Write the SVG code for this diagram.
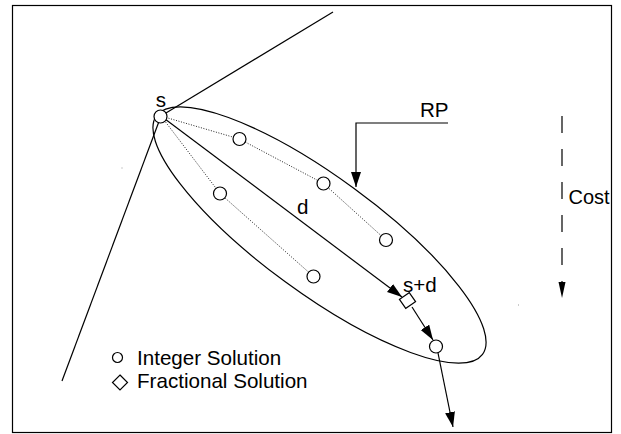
<svg xmlns="http://www.w3.org/2000/svg" width="621" height="434" viewBox="0 0 621 434">
<style>
.ln{stroke:#000;stroke-width:1.2;fill:none}
.dot{stroke:#222;stroke-width:1;stroke-dasharray:1 1.6;fill:none}
.pt{stroke:#000;stroke-width:1.2;fill:#fff}
.t{font-family:"Liberation Sans",Arial,sans-serif;font-size:20.6px;fill:#000}
</style>
<defs>
<marker id="ah" markerUnits="userSpaceOnUse" markerWidth="16" markerHeight="11" refX="15" refY="5" orient="auto">
<path d="M0,0 L15,5 L0,10 z" fill="#000"/>
</marker>
</defs>
<rect x="12.5" y="5.5" width="599" height="427" fill="#fff" stroke="#000" stroke-width="1.2"/>
<g id="connectors">
<line class="ln" x1="161" y1="116" x2="333" y2="12"/>
<line class="ln" x1="161" y1="116" x2="62" y2="381"/>
<ellipse class="ln" cx="319.5" cy="235" rx="202" ry="58" transform="rotate(36.2 319.5 235)"/>
<polyline class="dot" points="161,116 239.5,139 323.5,183.5 386,240"/>
<polyline class="dot" points="161,116 220,193.5 313.5,276.5"/>
<line class="ln" x1="161" y1="116" x2="402" y2="297" marker-end="url(#ah)"/>
<line class="ln" x1="412" y1="307" x2="433" y2="340" marker-end="url(#ah)"/>
<line class="ln" x1="438" y1="353" x2="453" y2="427" marker-end="url(#ah)"/>
<polyline class="ln" points="448,123 356,123 356,187" marker-end="url(#ah)"/>
<line class="ln" x1="562" y1="116" x2="562" y2="282" stroke-dasharray="17 16"/>
<polygon points="558.5,282 565.5,282 562,298" fill="#000"/>
</g>
<g id="node-s"><circle class="pt" cx="160.5" cy="116.5" r="6.5"/><text class="t" x="161" y="107" text-anchor="middle">s</text></g>
<g id="node-i1"><circle class="pt" cx="239.5" cy="139" r="6.5"/></g>
<g id="node-i2"><circle class="pt" cx="323.5" cy="183.5" r="6.5"/></g>
<g id="node-i3"><circle class="pt" cx="386" cy="240" r="6.5"/></g>
<g id="node-i4"><circle class="pt" cx="220" cy="193.5" r="6.5"/></g>
<g id="node-i5"><circle class="pt" cx="313.5" cy="276.5" r="6.5"/></g>
<g id="node-i6"><circle class="pt" cx="436" cy="346.5" r="6.5"/></g>
<g id="node-sd"><rect class="pt" x="401.5" y="295" width="12" height="11" transform="rotate(-35 407.5 300.5)"/><text class="t" x="403" y="292">s+d</text></g>
<g id="label-d"><text class="t" x="297" y="214">d</text></g>
<g id="label-rp"><text class="t" x="420" y="117">RP</text></g>
<g id="label-cost"><text class="t" x="568.5" y="204" style="font-size:20px">Cost</text></g>
<g id="legend">
<circle class="pt" cx="117.5" cy="357.5" r="5"/>
<text class="t" x="137" y="365">Integer Solution</text>
<polygon class="pt" points="120,375 127.5,382.5 120,390 112.5,382.5"/>
<text class="t" x="137" y="388">Fractional Solution</text>
</g>
<g id="specks" fill="#999">
<rect x="121.5" y="167.5" width="1" height="1"/>
<rect x="518" y="304.5" width="1" height="1"/>
</g>
</svg>
